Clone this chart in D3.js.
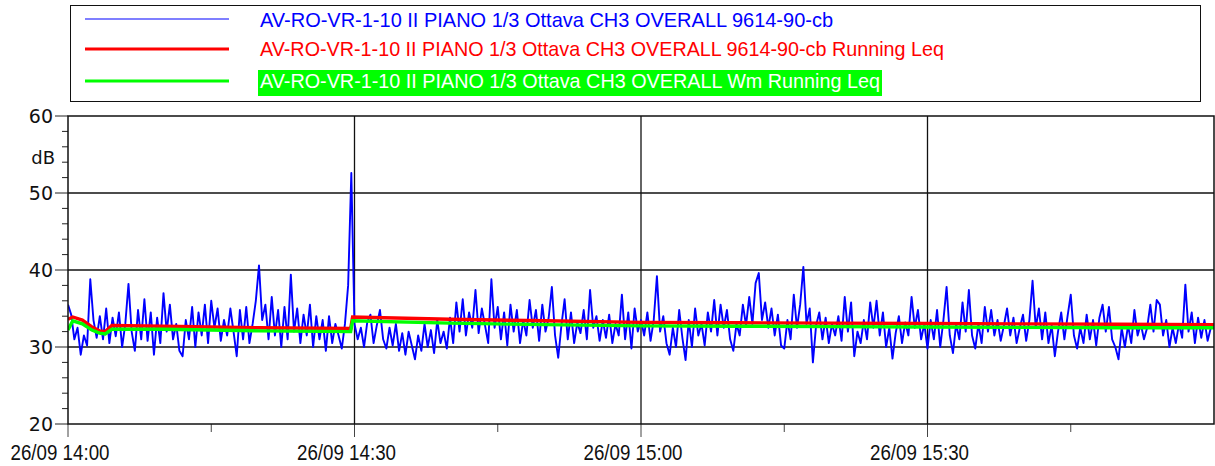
<!DOCTYPE html>
<html><head><meta charset="utf-8">
<script src="https://cdn.jsdelivr.net/npm/d3@7"></script>
<style>body{margin:0;background:#fff}svg{display:block}</style>
</head><body>
<svg id="c" width="1215" height="466"></svg>
<script>
// ---- data ----
const seriesNames = [
  "AV-RO-VR-1-10 II PIANO 1/3 Ottava CH3 OVERALL 9614-90-cb",
  "AV-RO-VR-1-10 II PIANO 1/3 Ottava CH3 OVERALL 9614-90-cb Running Leq",
  "AV-RO-VR-1-10 II PIANO 1/3 Ottava CH3 OVERALL Wm Running Leq"
];
const startTime = "2023-09-26T14:00:00";
const stepSeconds = 20;
// blue: level every 20 s (dB)
const levelValues = [
35.5,34.2,31.0,32.5,29.0,31.5,30.2,38.8,33.5,31.2,34.0,31.0,35.0,30.5,33.8,31.4,34.5,30.0,33.0,38.2,
32.0,29.5,34.8,31.0,36.2,30.8,34.5,29.0,33.8,30.5,37.0,32.0,35.5,31.0,33.0,29.5,28.8,33.5,31.0,35.2,
30.0,34.5,31.5,35.5,30.5,36.0,32.5,35.0,30.8,33.5,31.5,35.0,32.0,28.8,34.8,31.0,35.2,30.5,33.0,36.0,
40.6,33.5,35.5,31.0,36.5,31.5,34.8,30.0,35.2,31.0,39.4,32.0,35.0,30.5,34.2,31.5,35.5,30.0,34.0,31.0,
33.5,29.5,34.0,30.5,33.0,31.5,29.8,33.0,38.0,52.6,
33.0,31.0,32.5,30.0,33.2,34.2,30.5,32.8,34.8,31.0,29.8,32.5,30.2,33.0,29.5,31.8,29.0,32.0,30.2,28.4,
31.5,29.5,33.0,30.0,32.2,29.2,33.5,30.5,32.0,29.8,33.8,30.5,35.8,32.0,36.2,31.5,34.5,32.5,37.4,31.8,
35.0,32.8,30.5,38.8,32.5,35.2,31.0,34.5,30.2,35.5,32.0,34.8,30.5,33.5,31.5,36.1,32.5,34.8,30.8,35.5,
32.0,33.8,37.8,31.5,28.6,32.8,36.2,31.0,34.5,30.5,33.2,31.8,34.8,31.0,37.4,32.5,34.0,30.8,33.5,31.2,
34.2,30.5,33.0,31.5,36.8,31.0,34.5,29.8,35.0,32.0,33.5,
31.5,34.5,30.8,33.5,39.2,32.0,34.0,30.5,29.0,32.5,30.0,34.8,31.2,28.3,33.5,30.0,35.0,31.5,33.0,30.2,
34.5,32.0,36.1,31.5,35.5,32.5,34.8,31.0,29.5,33.0,31.5,35.5,32.8,36.5,33.0,38.3,39.6,33.5,35.8,32.5,
35.0,31.5,34.2,30.2,29.8,33.5,31.0,36.8,32.5,35.5,40.4,33.0,35.0,28.0,32.8,34.5,31.0,33.8,30.5,33.0,
31.5,34.0,30.8,36.5,32.0,35.8,28.8,32.0,30.5,33.5,31.0,35.8,32.5,36.0,31.5,34.5,30.0,32.5,28.5,31.8,
34.0,30.5,33.2,31.5,36.5,32.5,34.8,31.0,33.0,29.8,
33.5,31.0,34.8,30.0,33.5,37.8,31.5,29.2,33.0,31.0,35.8,32.0,37.4,31.5,29.8,33.0,30.5,35.2,32.0,34.8,
31.5,33.5,30.8,32.8,35.0,31.5,33.8,30.5,32.5,34.2,30.8,33.5,38.6,32.5,35.0,31.0,34.5,30.5,32.8,28.8,
32.0,34.5,31.0,34.0,36.8,31.5,29.8,32.5,30.5,34.2,31.0,33.5,30.2,33.8,35.5,32.0,35.2,31.0,30.0,28.4,
32.5,30.0,32.8,30.5,34.8,31.5,33.0,31.0,32.5,35.5,32.0,36.1,35.5,31.5,33.5,30.0,32.5,30.5,33.0,31.2,
38.1,32.0,34.5,30.5,33.8,31.2,33.5,30.8,32.5
];
// running Leq: [minutes from start, dB]
const redMinutes = [0,0.5,1.5,2.5,3.3,3.9,4.6,10,20,29.6,29.8,40,50,60,70,80,90,100,110,120];
const redValues  = [33.6,33.9,33.5,32.6,32.1,32.0,32.8,32.7,32.5,32.4,33.9,33.6,33.4,33.2,33.15,33.1,33.05,33.0,32.95,32.9];
const greenMinutes = [0,0.5,1.5,2.5,3.3,3.9,4.6,10,20,29.6,29.8,40,50,60,70,80,90,100,110,120];
const greenValues  = [32.2,33.4,33.0,32.2,31.8,31.7,32.3,32.3,32.1,32.0,33.4,33.1,32.9,32.75,32.7,32.65,32.6,32.55,32.5,32.5];
const yTicks = [20,30,40,50,60];
const xTickLabels = ["26/09 14:00","26/09 14:30","26/09 15:00","26/09 15:30"];

// ---- layout ----
const svg = d3.select("#c");
const L = 68, R = 1214, T = 116, B = 424;
const t0 = new Date(startTime);
const addMin = m => new Date(t0.getTime() + m * 60000);
const x = d3.scaleTime().domain([t0, addMin(120)]).range([L, R]);
const y = d3.scaleLinear().domain([20, 60]).range([B, T]);

// grid
const g = svg.append("g");
g.selectAll(".hg").data([30,40,50]).join("line")
  .attr("x1", L).attr("x2", R).attr("y1", d => y(d)).attr("y2", d => y(d))
  .attr("stroke", "#111").attr("stroke-width", 1.3);
g.selectAll(".vg").data([30,60,90]).join("line")
  .attr("x1", d => x(addMin(d))).attr("x2", d => x(addMin(d))).attr("y1", T).attr("y2", B)
  .attr("stroke", "#111").attr("stroke-width", 1.3);

// y axis ticks
const minorY = d3.range(20, 61, 2);
svg.append("g").selectAll("line").data(minorY).join("line")
  .attr("x1", d => d % 10 === 0 ? 55 : 62).attr("x2", L)
  .attr("y1", d => y(d)).attr("y2", d => y(d))
  .attr("stroke", "#222").attr("stroke-width", 1);
svg.append("g").selectAll("text").data(yTicks).join("text")
  .attr("x", 53).attr("y", d => y(d) + 7)
  .attr("text-anchor", "end")
  .attr("font-family", "DejaVu Sans").attr("font-size", 19).attr("fill", "#111")
  .text(d => d);
svg.append("text").attr("x", 55).attr("y", 164).attr("text-anchor", "end")
  .attr("font-family", "DejaVu Sans").attr("font-size", 18).attr("fill", "#111").text("dB");

// x axis ticks
const xMinor = d3.range(0, 120, 15);
svg.append("g").selectAll("line").data(xMinor).join("line")
  .attr("x1", d => x(addMin(d))).attr("x2", d => x(addMin(d)))
  .attr("y1", B).attr("y2", d => d % 30 === 0 ? 437 : 432)
  .attr("stroke", "#444").attr("stroke-width", 1);
svg.append("g").selectAll("text").data(xTickLabels).join("text")
  .attr("x", (d, i) => x(addMin(i * 30)) - 8)
  .attr("y", 460)
  .attr("text-anchor", "middle")
  .attr("font-family", "Liberation Sans").attr("font-size", 22).attr("fill", "#111")
  .attr("textLength", 99).attr("lengthAdjust", "spacingAndGlyphs")
  .text(d => d);

// data lines
svg.append("clipPath").attr("id", "cl").append("rect")
  .attr("x", L).attr("y", T).attr("width", R - L).attr("height", B - T);
const blueData = levelValues.map((v, i) => ({t: new Date(t0.getTime() + i * stepSeconds * 1000), v}));
const redData = redMinutes.map((m, i) => ({t: addMin(m), v: redValues[i]}));
const greenData = greenMinutes.map((m, i) => ({t: addMin(m), v: greenValues[i]}));
const line = d3.line().x(d => x(d.t)).y(d => y(d.v));
const dg = svg.append("g").attr("clip-path", "url(#cl)");
dg.append("path").datum(blueData).attr("d", line).attr("fill", "none")
  .attr("stroke", "#0000ff").attr("stroke-width", 1.9).attr("stroke-linejoin", "round");
dg.append("path").datum(redData).attr("d", line).attr("fill", "none")
  .attr("stroke", "#ff0000").attr("stroke-width", 3.4);
dg.append("path").datum(greenData).attr("d", line).attr("fill", "none")
  .attr("stroke", "#00ff00").attr("stroke-width", 3.4);

// frame
svg.append("rect").attr("x", L).attr("y", T).attr("width", R - L).attr("height", B - T)
  .attr("fill", "none").attr("stroke", "#111").attr("stroke-width", 1.5);

// legend
svg.append("rect").attr("x", 70.5).attr("y", 5.5).attr("width", 1130).attr("height", 96)
  .attr("fill", "#fff").attr("stroke", "#111").attr("stroke-width", 1);
const legColors = ["#0000ff", "#ff0000", "#00ff00"];
const legWidths = [1.2, 3, 3];
const legY = [19, 49, 81];
const legBase = [27, 56, 88];
const legTextLen = [573, 684, 620];
svg.append("rect").attr("x", 258).attr("y", 70).attr("width", 624).attr("height", 26).attr("fill", "#00ff00");
seriesNames.forEach((n, i) => {
  svg.append("line").attr("x1", 85).attr("x2", 229).attr("y1", legY[i]).attr("y2", legY[i])
    .attr("stroke", legColors[i]).attr("stroke-width", legWidths[i]);
  svg.append("text").attr("x", 260).attr("y", legBase[i])
    .attr("font-family", "Liberation Sans").attr("font-size", 21)
    .attr("fill", i === 2 ? "#ffffff" : legColors[i])
    .attr("textLength", legTextLen[i]).attr("lengthAdjust", "spacingAndGlyphs")
    .text(n);
});
</script>
</body></html>
